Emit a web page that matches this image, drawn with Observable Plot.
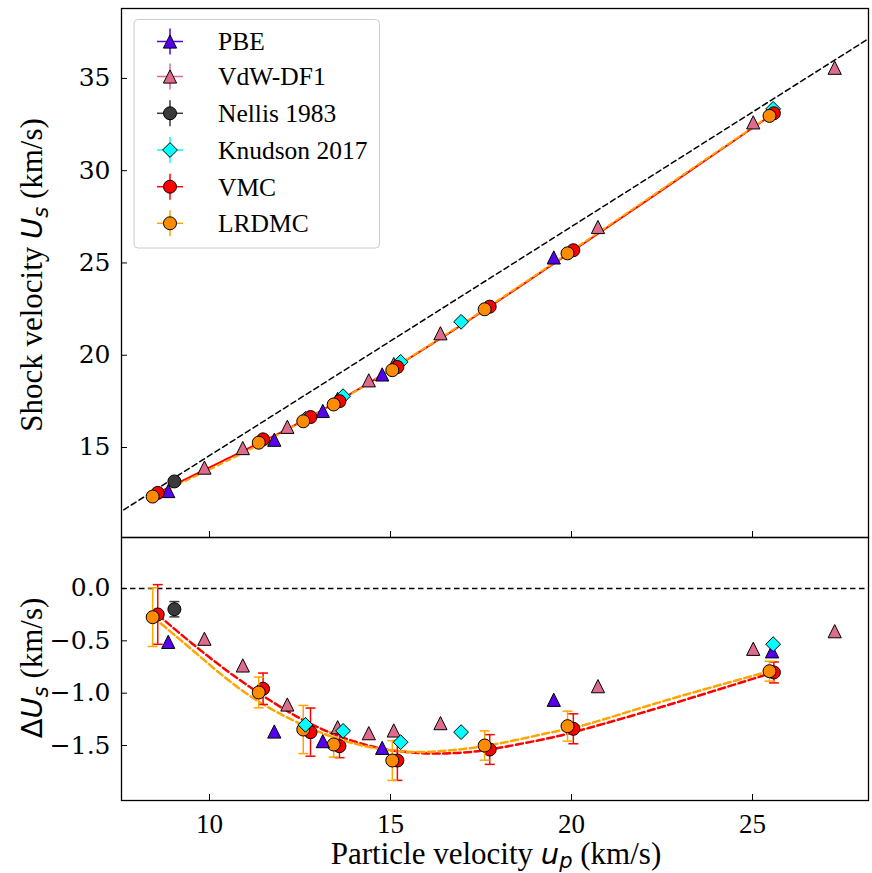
<!DOCTYPE html>
<html>
<head>
<meta charset="utf-8">
<script src="https://cdn.jsdelivr.net/npm/d3@7"></script>
<script src="https://cdn.jsdelivr.net/npm/@observablehq/plot@0.6"></script>
<style>
  html, body { margin: 0; padding: 0; background: white; }
  #chart { width: 872px; height: 873px; }
  #chart svg { display: block; }
  #chart svg text.ytick { font-family: 'DejaVu Serif', serif !important; font-size: 25px !important; }
  #chart svg text.xtick { font-family: 'Liberation Serif', 'Times New Roman', serif !important; font-size: 27px !important; }
</style>
</head>
<body>
<div id="chart"></div>
<script>
// ---------------- data ----------------
const X_TICKS = [10, 15, 20, 25];
const US_TICKS = [15, 20, 25, 30, 35];
const DUS_TICKS = [0.0, -0.5, -1.0, -1.5];

const SERIES = ["PBE", "VdW-DF1", "Nellis 1983", "Knudson 2017", "VMC", "LRDMC"];

// reference linear Hugoniot (dashed black line, top panel)
const REF_up = [7.0, 29.0];
const REF_us = [10.84, 38.14];

const PBE_up  = [8.86, 11.79, 13.13, 14.77, 19.51, 25.54];
const PBE_us  = [12.64, 15.42, 16.98, 18.96, 25.30, 33.24];
const PBE_dus = [-0.51, -1.366, -1.458, -1.522, -1.063, -0.60];

const VDW_up  = [9.86, 10.92, 12.15, 13.54, 14.40, 15.09, 16.38, 20.73, 25.02, 27.27];
const VDW_us  = [13.91, 14.97, 16.12, 17.63, 18.64, 19.52, 21.19, 26.95, 32.62, 35.58];
const VDW_dus = [-0.48, -0.735, -1.108, -1.325, -1.382, -1.356, -1.286, -0.933, -0.576, -0.408];

const NEL_up  = [9.03];
const NEL_us  = [13.16];
const NEL_dus = [-0.198];
const NEL_err = [0.073];

const KN_up  = [12.65, 13.69, 15.28, 16.95, 25.57];
const KN_us  = [16.55, 17.78, 19.64, 21.81, 33.35];
const KN_dus = [-1.302, -1.36, -1.468, -1.372, -0.532];

const VMC_up  = [8.57, 11.48, 12.79, 13.59, 15.19, 17.74, 20.05, 25.59];
const VMC_us  = [12.54, 15.44, 16.65, 17.51, 19.36, 22.63, 25.69, 33.11];
const VMC_dus = [-0.248, -0.958, -1.372, -1.506, -1.643, -1.538, -1.34, -0.802];
const VMC_err = [0.285, 0.15, 0.23, 0.11, 0.19, 0.142, 0.143, 0.10];

const LR_up  = [8.43, 11.36, 12.59, 13.43, 15.05, 17.60, 19.89, 25.47];
const LR_us  = [12.34, 15.26, 16.42, 17.33, 19.19, 22.49, 25.52, 32.97];
const LR_dus = [-0.274, -0.993, -1.347, -1.49, -1.643, -1.50, -1.315, -0.79];
const LR_err = [0.28, 0.147, 0.23, 0.12, 0.19, 0.14, 0.143, 0.095];

// fitted curves (dashed)
const VMC_FIT_up  = [8.57, 9.5, 10.5, 11.5, 12.5, 13.5, 14.5, 15.5, 16.5, 17.5, 18.5, 19.5, 20.5, 22.5, 25.59];
const VMC_FIT_dus = [-0.25, -0.52, -0.79, -1.03, -1.24, -1.40, -1.51, -1.565, -1.575, -1.55, -1.49, -1.42, -1.33, -1.13, -0.80];
const LR_FIT_up   = [8.43, 9.5, 10.5, 11.5, 12.5, 13.5, 14.5, 15.5, 16.5, 17.5, 18.5, 19.5, 20.5, 22.5, 25.47];
const LR_FIT_dus  = [-0.27, -0.58, -0.87, -1.11, -1.29, -1.43, -1.52, -1.56, -1.55, -1.51, -1.445, -1.37, -1.29, -1.08, -0.79];

const VMC_FIT_TOP_up = [8.57, 10.30, 12.15, 13.99, 15.83, 18.04, 22.46, 25.59];
const VMC_FIT_TOP_us = [12.54, 14.21, 16.00, 18.01, 20.22, 23.02, 28.89, 33.11];
const LR_FIT_TOP_up  = [8.43, 10.67, 12.15, 13.99, 15.83, 18.22, 22.46, 25.47];
const LR_FIT_TOP_us  = [12.34, 14.45, 15.97, 17.99, 20.25, 23.30, 28.95, 32.97];

// ---------------- styling ----------------
const C = {
  pbe: "#5500ee", vdw: "#dd6b8b", nel: "#3a3a3a", kn: "#00ffff",
  vmc: "#ff0000", lr: "#ff8c00", lrLine: "#ffa500"
};
const SERIF = "'Liberation Serif', 'Times New Roman', serif";
const DSANS = "'DejaVu Sans', sans-serif";

const zip = (xs, ys, es) => xs.map((x, i) => ({x, y: ys[i], e: es ? es[i] : 0}));

const rOf = size => Math.sqrt(size / Math.PI);
const triSym = {draw(ctx, size) { const r = rOf(size); ctx.moveTo(0, -r); ctx.lineTo(r, r); ctx.lineTo(-r, r); ctx.closePath(); }};
const diaSym = {draw(ctx, size) { const r = rOf(size); ctx.moveTo(0, -r); ctx.lineTo(r, 0); ctx.lineTo(0, r); ctx.lineTo(-r, 0); ctx.closePath(); }};
const capSym = {draw(ctx, size) { const r = rOf(size); ctx.moveTo(-r, 0); ctx.lineTo(r, 0); }};

const W = 872, ML = 121, MR = 4;
const XDOM = [7.569, 28.204];

function errMarks(data, color) {
  return [
    Plot.ruleX(data, {x: "x", y1: d => d.y - d.e, y2: d => d.y + d.e, stroke: color, strokeWidth: 1.5}),
    Plot.dot(data, {x: "x", y: d => d.y - d.e, symbol: capSym, r: 5, stroke: color, strokeWidth: 1.5, fill: "none"}),
    Plot.dot(data, {x: "x", y: d => d.y + d.e, symbol: capSym, r: 5, stroke: color, strokeWidth: 1.5, fill: "none"})
  ];
}
const circ = (data, fill) => Plot.dot(data, {x: "x", y: "y", r: 6.5, fill, stroke: "black", strokeWidth: 1});
const tri = (data, fill) => Plot.dot(data, {x: "x", y: "y", r: 6.6, symbol: triSym, fill, stroke: "black", strokeWidth: 1});
const dia = (data, fill) => Plot.dot(data, {x: "x", y: "y", r: 7.4, symbol: diaSym, fill, stroke: "black", strokeWidth: 1});

// ---------------- top panel ----------------
const topSvg = Plot.plot({
  width: W, height: 537,
  marginLeft: ML, marginRight: MR, marginTop: 8, marginBottom: 0,
  x: {domain: XDOM},
  y: {domain: [10.122, 38.79]},
  style: {fontFamily: SERIF, background: "white", overflow: "visible"},
  marks: [
    Plot.line(zip(REF_up, REF_us), {x: "x", y: "y", stroke: "black", strokeWidth: 1.5, strokeDasharray: "5.5,3.5", clip: true}),
    Plot.line(zip(VMC_FIT_TOP_up, VMC_FIT_TOP_us), {x: "x", y: "y", stroke: C.vmc, strokeWidth: 2, curve: "natural"}),
    Plot.line(zip(LR_FIT_TOP_up, LR_FIT_TOP_us), {x: "x", y: "y", stroke: C.lrLine, strokeWidth: 2, strokeDasharray: "5,4", curve: "natural"}),
    tri(zip(PBE_up, PBE_us), C.pbe),
    tri(zip(VDW_up, VDW_us), C.vdw),
    circ(zip(NEL_up, NEL_us), C.nel),
    dia(zip(KN_up, KN_us), C.kn),
    circ(zip(VMC_up, VMC_us), C.vmc),
    circ(zip(LR_up, LR_us), C.lr),
    Plot.axisX({ticks: X_TICKS, tickSize: -6, tickFormat: () => "", label: null, anchor: "bottom"}),
    Plot.axisY({ticks: US_TICKS, tickSize: -6, tickFormat: () => "", label: null, anchor: "left"}),
    Plot.axisY({ticks: US_TICKS, tickSize: 0, tickPadding: 11, label: null, anchor: "left",
                fontSize: 25, tickFormat: d3.format("d")}),
    Plot.frame({stroke: "black", strokeWidth: 1.3})
  ]
});

// ---------------- bottom panel ----------------
const botSvg = Plot.plot({
  width: W, height: 336,
  marginLeft: ML, marginRight: MR, marginTop: 0, marginBottom: 73,
  x: {domain: XDOM},
  y: {domain: [-2.025, 0.487]},
  style: {fontFamily: SERIF, background: "white", overflow: "visible"},
  marks: [
    Plot.ruleY([0], {stroke: "black", strokeWidth: 1.5, strokeDasharray: "5.5,3.5"}),
    Plot.line(zip(VMC_FIT_up, VMC_FIT_dus), {x: "x", y: "y", stroke: C.vmc, strokeWidth: 2.5, strokeDasharray: "7,3.5", curve: "natural"}),
    Plot.line(zip(LR_FIT_up, LR_FIT_dus), {x: "x", y: "y", stroke: C.lrLine, strokeWidth: 2.5, strokeDasharray: "7,3.5", curve: "natural"}),
    ...errMarks(zip(VMC_up, VMC_dus, VMC_err), C.vmc),
    circ(zip(VMC_up, VMC_dus), C.vmc),
    ...errMarks(zip(LR_up, LR_dus, LR_err), C.lrLine),
    circ(zip(LR_up, LR_dus), C.lr),
    tri(zip(PBE_up, PBE_dus), C.pbe),
    tri(zip(VDW_up, VDW_dus), C.vdw),
    ...errMarks(zip(NEL_up, NEL_dus, NEL_err), C.nel),
    circ(zip(NEL_up, NEL_dus), C.nel),
    dia(zip(KN_up, KN_dus), C.kn),
    Plot.axisX({ticks: X_TICKS, tickSize: -6, tickFormat: () => "", label: null, anchor: "bottom"}),
    Plot.axisX({ticks: X_TICKS, tickSize: 0, tickPadding: 13, label: null, anchor: "bottom",
                fontSize: 27, tickFormat: d3.format("d")}),
    Plot.axisY({ticks: DUS_TICKS, tickSize: -6, tickFormat: () => "", label: null, anchor: "left"}),
    Plot.axisY({ticks: DUS_TICKS, tickSize: 0, tickPadding: 11, label: null, anchor: "left",
                fontSize: 25, tickFormat: d3.format(".1f")}),
    Plot.frame({stroke: "black", strokeWidth: 1.3})
  ]
});

document.getElementById("chart").append(topSvg, botSvg);

// tag tick-label texts (only axis texts exist at this point) so the stylesheet sets their fonts
d3.select(topSvg).selectAll("text").filter(function() { return this.textContent.trim() !== ""; }).classed("ytick", true);
d3.select(botSvg).selectAll("text").filter(function() { return this.textContent.trim() !== ""; })
  .each(function() { d3.select(this).classed(this.textContent.includes(".") ? "ytick" : "xtick", true); });

// ---------------- axis labels ----------------
function label(svg, x, y, rotate, size, parts) {
  const t = d3.select(svg).append("text")
    .attr("transform", `translate(${x},${y})` + (rotate ? " rotate(-90)" : ""))
    .attr("text-anchor", "middle")
    .style("font-family", SERIF).style("font-size", size + "px").attr("fill", "black");
  for (const p of parts) {
    const s = t.append("tspan").text(p.t);
    if (p.f) s.style("font-family", p.f);
    if (p.i) s.style("font-style", "italic");
    if (p.fs) s.style("font-size", p.fs + "px");
    if (p.dy) s.attr("dy", p.dy);
  }
}
label(topSvg, 42, 275, true, 31, [
  {t: "Shock velocity "}, {t: "U", f: DSANS, i: true, fs: 29}, {t: "s", f: DSANS, i: true, fs: 21, dy: 6}, {t: " (km/s)", dy: -6}
]);
label(botSvg, 42, 131, true, 31, [
  {t: "Δ", f: DSANS, fs: 29}, {t: "U", f: DSANS, i: true, fs: 29}, {t: "s", f: DSANS, i: true, fs: 21, dy: 6}, {t: " (km/s)", dy: -6}
]);
label(botSvg, 496, 327, false, 31, [
  {t: "Particle velocity "}, {t: "u", f: DSANS, i: true, fs: 29}, {t: "p", f: DSANS, i: true, fs: 21, dy: 4}, {t: " (km/s)", dy: -4}
]);

// ---------------- legend ----------------
const lg = d3.select(topSvg).append("g");
lg.append("rect").attr("x", 134).attr("y", 19.5).attr("width", 245.5).attr("height", 228.5)
  .attr("rx", 4).attr("fill", "white").attr("fill-opacity", 0.8).attr("stroke", "#cccccc").attr("stroke-width", 1);
const LEG_Y = [41.5, 76.5, 113.3, 150, 186.7, 223.3];
const legStyle = [
  {c: C.pbe, sym: triSym, r: 6.6, line: C.pbe},
  {c: C.vdw, sym: triSym, r: 6.6, line: C.vdw},
  {c: C.nel, sym: d3.symbolCircle, r: 6.5, line: C.nel},
  {c: C.kn, sym: diaSym, r: 7.4, line: C.kn},
  {c: C.vmc, sym: d3.symbolCircle, r: 6.5, line: C.vmc},
  {c: C.lr, sym: d3.symbolCircle, r: 6.5, line: C.lrLine}
];
SERIES.forEach((name, i) => {
  const y = LEG_Y[i], st = legStyle[i], g = lg.append("g");
  g.append("line").attr("x1", 157).attr("x2", 183).attr("y1", y).attr("y2", y).attr("stroke", st.line).attr("stroke-width", 1.5);
  g.append("line").attr("x1", 170).attr("x2", 170).attr("y1", y - 13).attr("y2", y + 13).attr("stroke", st.line).attr("stroke-width", 1.5);
  g.append("path").attr("transform", `translate(170,${y})`)
    .attr("d", d3.symbol(st.sym, Math.PI * st.r * st.r)())
    .attr("fill", st.c).attr("stroke", "black").attr("stroke-width", 1);
  g.append("text").attr("x", 218).attr("y", y).attr("dy", "0.35em")
    .attr("text-anchor", "start")
    .style("font-family", SERIF).style("font-size", "25.5px").attr("fill", "black").text(name);
});
</script>
</body>
</html>
